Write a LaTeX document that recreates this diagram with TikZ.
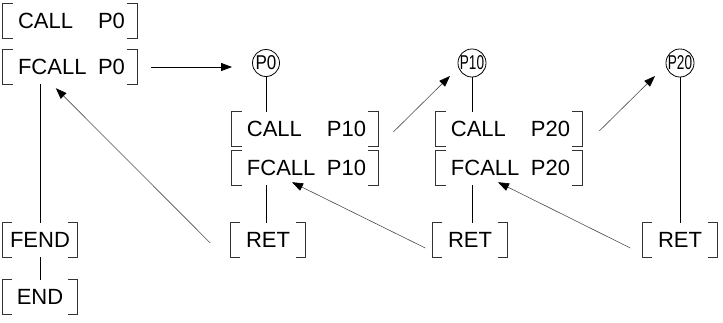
\documentclass[tikz,border=0pt]{standalone}
\usepackage{fontspec}
\setmainfont{Liberation Sans}
\usepackage{graphicx}
\usepackage{tikz}
\usetikzlibrary{arrows.meta}

\tikzset{
  instr/.style={inner xsep=12pt, inner ysep=0pt, minimum height=34pt, font=\fontsize{22}{22}\selectfont},
  shortinstr/.style={instr, inner xsep=0pt, minimum width=75pt},
  pnum/.style={circle, draw, line width=0.8pt, minimum size=27pt, inner sep=0pt, font=\fontsize{20}{20}\selectfont},
  brk/.style={draw=black!80, line width=1.2pt},
  flow/.style={line width=0.9pt},
  jump/.style={-{Triangle[length=11pt, width=8pt, color=black]}, draw=black!70, line width=0.6pt},
  call/.style={-{Triangle[length=11pt, width=8pt]}, line width=0.9pt},
}
\newcommand{\op}[2]{\hspace*{3pt}\makebox[80pt][l]{#1}#2}
\newcommand{\brackets}[1]{%
  \draw[brk] ([xshift=10pt]#1.north west) -| (#1.south west) -- ++(10pt,0);
  \draw[brk] ([xshift=-10pt]#1.north east) -| (#1.south east) -- ++(-10pt,0);}

\begin{document}
\begin{tikzpicture}[x=1pt, y=-1pt]
    \useasboundingbox (0,0) rectangle (723,322);

    % Nodes
    \node[instr] (callA) at (70,21) {\op{CALL}{P0}};
    \node[instr] (fcallA) at (70,67) {\op{FCALL}{P0}};
    \node[shortinstr] (fend) at (40,240) {FEND};
    \node[shortinstr] (endA) at (40,297) {END};

    \node[pnum] (p0) at (266,63) {\scalebox{0.85}[1]{P0}};
    \node[instr] (callB) at (305,129) {\op{CALL}{P10}};
    \node[instr] (fcallB) at (305,168) {\op{FCALL}{P10}};
    \node[shortinstr] (retB) at (268,240) {RET};

    \node[pnum] (p10) at (472,63) {\scalebox{0.68}[1]{P10}};
    \node[instr] (callC) at (509,129) {\op{CALL}{P20}};
    \node[instr] (fcallC) at (509,168) {\op{FCALL}{P20}};
    \node[shortinstr] (retC) at (470,240) {RET};

    \node[pnum] (p20) at (680,63) {\scalebox{0.68}[1]{P20}};
    \node[shortinstr] (retD) at (680,240) {RET};

    % Brackets
    \foreach \n in {callA,fcallA,fend,endA,callB,fcallB,retB,callC,fcallC,retC,retD}
        \brackets{\n};

    % Program flow
    \draw[flow] (fend.north |- fcallA.south) -- (fend.north);
    \draw[flow] (fend) -- (endA);
    \draw[flow] (p0) -- (p0 |- callB.north);
    \draw[flow] (p0 |- fcallB.south) -- (p0 |- retB.north);
    \draw[flow] (p10) -- (p10 |- callC.north);
    \draw[flow] (p10 |- fcallC.south) -- (p10 |- retC.north);
    \draw[flow] (p20) -- (retD);

    % Calls and returns
    \draw[call, shorten <=14pt, shorten >=20pt] (fcallA.east) -- (fcallA.east -| p0.west);
    \draw[jump] ([shift={(15,3)}]callB.east) -- ([shift={(-22,13)}]p10.center);
    \draw[jump] ([shift={(17,2)}]callC.east) -- ([shift={(-25,13)}]p20.center);
    \draw[jump] ([shift={(-20,3)}]retB.west) -- ([shift={(53,4)}]fcallA.south west);
    \draw[jump] ([shift={(-7,8)}]retC.west) -- ([shift={(-13,-3)}]fcallB.south);
    \draw[jump] ([shift={(-12,8)}]retD.west) -- ([shift={(-11,-3)}]fcallC.south);
\end{tikzpicture}
\end{document}
